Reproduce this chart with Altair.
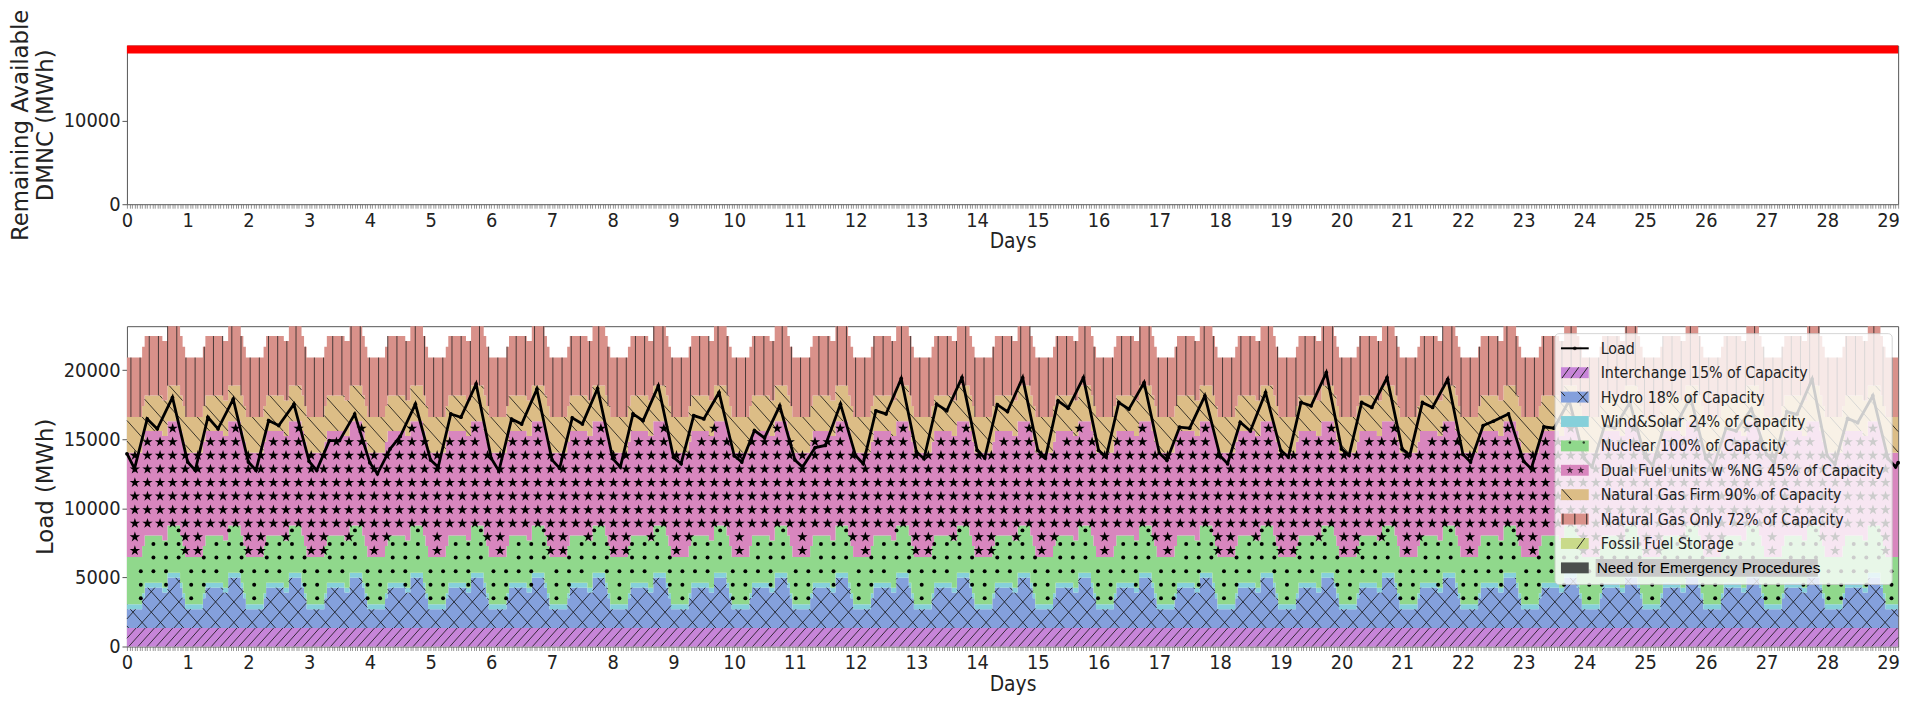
import altair as alt
import numpy as np
import pandas as pd

# ------------------------------------------------------------------ readings
N_HOURS = 701                         # hourly samples, hour 0 .. 700

series_names = [
    "Interchange 15% of Capacity",
    "Hydro 18% of Capacity",
    "Wind&Solar 24% of Capacity",
    "Nuclear 100% of Capacity",
    "Dual Fuel units w %NG 45% of Capacity",
    "Natural Gas Firm 90% of Capacity",
    "Natural Gas Only 72% of Capacity",
    "Fossil Fuel Storage",
]
series_colors = ["#c785d8", "#84a0dc", "#86d0da", "#90d88c",
                 "#d886be", "#dcbd86", "#d9918a", "#c9da8a"]
emergency_label = "Need for Emergency Procedures"
emergency_color = "#4b4f4d"

# flat supply blocks (MWh per hour)
interchange_mwh = 1340
wind_solar_mwh = 360
nuclear_mwh = 3420
dual_fuel_mwh = 7550
ng_firm_mwh = 2580
ng_only_mwh = 4300
fossil_storage_mwh = 0

# hydro block by hour of day (same shape every day of the month)
hydro_by_hour = [1360, 1360, 1360, 1360, 1360, 1360, 2150,
                 2920, 2920, 2920, 2920, 2920, 2920, 2920,
                 2560, 2560, 3630, 3630, 3630, 3630, 3630,
                 2920, 2150, 1360]

# hourly load: per day the midnight value (h0), night low (h3), morning peak (h8),
# midday (h12) and evening peak (h18); last hour of the series
load_midnight = [13950, 13350, 13350, 13400, 13300, 13500, 13600, 13500, 13600, 13700,
                 13800, 13500, 13800, 14100, 14200, 14200, 14200, 14000, 13800, 14200,
                 14300, 14300, 13900, 13400, 13600, 13700, 13600, 13900, 13800, 13600]
load_night = [12870, 12750, 12750, 12750, 12500, 12990, 12700, 12900, 12990, 13230,
              13350, 12990, 13230, 13590, 13650, 13650, 13710, 13470, 13230, 13710,
              13830, 13830, 13350, 12870, 13000, 13100, 13000, 13300, 13200, 13000]
load_morning = [16470, 16590, 16350, 14900, 14300, 16830, 16460, 16550, 16830, 16710,
                15630, 14400, 17060, 17540, 17500, 17780, 17660, 15870, 16230, 17660,
                17660, 17660, 15990, 15900, 16000, 16300, 15800, 17000, 16500]
load_midday = [15750, 15750, 15990, 14900, 15200, 16590, 16100, 16110, 16350, 16470,
               15100, 14550, 16830, 17060, 17000, 17250, 17180, 15800, 15600, 17420,
               17300, 17300, 16300, 15800, 15800, 16000, 15600, 16800, 16200]
load_evening = [18020, 17900, 17540, 16820, 17540, 19000, 18620, 18670, 18860, 18380,
                17420, 17540, 19390, 19460, 19450, 19450, 19100, 18140, 18380, 19820,
                19460, 19340, 16830, 17800, 17660, 18030, 17200, 19350, 18150]
load_last = 13300
load_hours_of_day = [0, 3, 8, 12, 18]

# remaining available DMNC
dmnc_hours = [0, 700]
dmnc_mwh = [18575, 18575]

# ------------------------------------------------------------------ geometry
W = 1786
H_TOP, H_BOT = 160, 323
X_MAX = (N_HOURS - 1) / 24
Y_MAX_BOT = 23180
Y_MAX_TOP = 19050
PX_DAY = W / X_MAX
HOUR_PX = PX_DAY / 24
PX_MWH = H_BOT / Y_MAX_BOT

hours = np.arange(N_HOURS)
days = hours / 24.0
hydro = np.array(hydro_by_hour)[hours % 24]
blocks = np.vstack([
    np.full(N_HOURS, interchange_mwh), hydro, np.full(N_HOURS, wind_solar_mwh),
    np.full(N_HOURS, nuclear_mwh), np.full(N_HOURS, dual_fuel_mwh),
    np.full(N_HOURS, ng_firm_mwh), np.full(N_HOURS, ng_only_mwh),
    np.full(N_HOURS, fossil_storage_mwh),
]).astype(float)
tops = np.cumsum(blocks, axis=0)
bottoms = tops - blocks

stack_df = pd.concat([
    pd.DataFrame({"day": days, "lo": bottoms[i], "hi": tops[i], "series": name})
    for i, name in enumerate(series_names) if blocks[i].max() > 0
])

# load points
lh, lv = [], []
per_day = [load_midnight, load_night, load_morning, load_midday, load_evening]
for d in range(len(load_night)):
    for hod, arr in zip(load_hours_of_day, per_day):
        h = 24 * d + hod
        if d < len(arr) and h < N_HOURS:
            lh.append(h)
            lv.append(arr[d])
lh.append(N_HOURS - 1)
lv.append(load_last)
load_df = pd.DataFrame({"day": np.array(lh) / 24.0, "load": lv}).sort_values("day")

dmnc_df = pd.DataFrame({"day": np.array(dmnc_hours) / 24.0, "mwh": dmnc_mwh})


# ------------------------------------------------------------------ hatching
def diag_hatch(lo_mwh, hi_mwh, spacing, slope, sign):
    """Diagonal hatch lines clipped to a stepped band (pixel-space pattern)."""
    lo = lo_mwh[:-1] * PX_MWH
    hi = hi_mwh[:-1] * PX_MWH
    n = len(lo)
    u0 = np.arange(n) * HOUR_PX
    u1 = u0 + HOUR_PX
    vmax = hi.max()
    if sign > 0:
        cs = np.arange(-vmax / slope - spacing, W + spacing, spacing)
    else:
        cs = np.arange(0, W + vmax / slope + spacing, spacing)
    out = []
    for c in cs:
        if sign > 0:
            a = np.maximum(u0, c + lo / slope)
            b = np.minimum(u1, c + hi / slope)
        else:
            a = np.maximum(u0, c - hi / slope)
            b = np.minimum(u1, c - lo / slope)
        idx = np.nonzero(b - a > 1e-6)[0]
        seg = None
        for i in idx:
            if seg is not None and seg[2] == i - 1 and abs(seg[1] - a[i]) < 1e-6:
                seg = [seg[0], b[i], i]
            else:
                if seg is not None:
                    out.append((c, seg[0], seg[1]))
                seg = [a[i], b[i], i]
        if seg is not None:
            out.append((c, seg[0], seg[1]))
    out = np.array(out)
    c, ua, ub = out[:, 0], out[:, 1], out[:, 2]
    va = sign * slope * (ua - c)
    vb = sign * slope * (ub - c)
    return pd.DataFrame({"x": ua / PX_DAY, "x2": ub / PX_DAY,
                         "y": va / PX_MWH, "y2": vb / PX_MWH})


def grid_marks(lo_mwh, hi_mwh, dx, dy, u_phase, v_phase, margin):
    lo = lo_mwh[:-1] * PX_MWH
    hi = hi_mwh[:-1] * PX_MWH
    us = np.arange(u_phase, W - 2, dx)
    vs = np.arange(v_phase % dy, hi.max(), dy)
    U, V = np.meshgrid(us, vs)
    k = np.clip((U / HOUR_PX).astype(int), 0, len(lo) - 1)
    inside = (V >= lo[k] + margin) & (V <= hi[k] - margin)
    return pd.DataFrame({"x": U[inside] / PX_DAY, "y": V[inside] / PX_MWH})


def vertical_hatch(lo_mwh, hi_mwh, spacing, phase):
    us = np.arange(phase, W, spacing)
    k = np.clip((us / HOUR_PX).astype(int), 0, N_HOURS - 2)
    return pd.DataFrame({"x": us / PX_DAY, "y": lo_mwh[k], "y2": hi_mwh[k]})


hatch_df = pd.concat([
    diag_hatch(bottoms[0], tops[0], 9.25, 1.12, +1),     # interchange  //
    diag_hatch(bottoms[1], tops[1], 18.5, 1.12, +1),     # hydro        x
    diag_hatch(bottoms[1], tops[1], 18.5, 1.12, -1),
    diag_hatch(bottoms[5], tops[5], 18.5, 1.12, -1),     # gas firm     \
])
vline_df = vertical_hatch(bottoms[6], tops[6], 9.25, 4.0)  # gas only ||
star_df = grid_marks(bottoms[4], tops[4], 12.7, 13.7, 8.0, 192.6, 2.0)
dot_df = grid_marks(bottoms[3], tops[3], 12.7, 13.7, 14.0, 48.6, 2.0)

STAR = ("M0,-1L0.2245,-0.309L0.951,-0.309L0.363,0.118L0.588,0.809L0,0.382"
        "L-0.588,0.809L-0.363,0.118L-0.951,-0.309L-0.2245,-0.309Z")

# ------------------------------------------------------------------ axes
FONT = "DejaVu Sans Condensed, DejaVu Sans"
hour_ticks = [h / 24 for h in range(N_HOURS)]
x_scale = alt.Scale(domain=[0, X_MAX], nice=False, zero=False)
x_axis = alt.Axis(values=hour_ticks, title="Days", grid=False, domain=False,
                  labelExpr="datum.value % 1 === 0 ? format(datum.value, 'd') : ''",
                  labelOverlap=False, labelFlush=False, tickSize=4, tickWidth=0.7,
                  tickColor="#666", labelPadding=2, labelFontSize=20, labelFont=FONT,
                  titleFont=FONT, titleFontSize=21, titlePadding=1,
                  titleFontWeight="normal", labelColor="#222", titleColor="#222")
yb_scale = alt.Scale(domain=[0, Y_MAX_BOT], nice=False)
yb_axis = alt.Axis(values=[0, 5000, 10000, 15000, 20000], format="d", title="Load (MWh)",
                   grid=False, domain=False, tickSize=5, tickColor="#555",
                   labelFontSize=20, labelFont=FONT, labelColor="#222",
                   titleFont="DejaVu Sans", titleFontSize=23, titlePadding=6,
                   titleFontWeight="normal", titleColor="#222")
yt_scale = alt.Scale(domain=[0, Y_MAX_TOP], nice=False)
yt_axis = alt.Axis(values=[0, 10000], format="d", title=["Remaining Available", "DMNC (MWh)"],
                   grid=False, domain=False, tickSize=5, tickColor="#555",
                   labelFontSize=20, labelFont=FONT, labelColor="#222",
                   titleFont="DejaVu Sans", titleFontSize=23, titlePadding=6,
                   titleLineHeight=25, titleFontWeight="normal", titleColor="#222")


def X(field):
    return alt.X(field, type="quantitative", scale=x_scale, axis=x_axis)


def YB(field):
    return alt.Y(field, type="quantitative", scale=yb_scale, axis=yb_axis, stack=None)


# ------------------------------------------------------------------ top panel
top = alt.Chart(dmnc_df).mark_line(color="#ff0000", strokeWidth=8).encode(
    x=X("day"),
    y=alt.Y("mwh:Q", scale=yt_scale, axis=yt_axis),
).properties(width=W, height=H_TOP)

# ------------------------------------------------------------------ bottom panel
areas = alt.Chart(stack_df).mark_area(interpolate="step-after").encode(
    x=X("day"),
    y=YB("lo"),
    y2="hi:Q",
    color=alt.Color("series:N", scale=alt.Scale(domain=series_names, range=series_colors),
                    legend=None),
)
hatches = alt.Chart(hatch_df).mark_rule(color="#111", strokeWidth=1, opacity=0.8).encode(
    x=X("x"), x2="x2:Q", y=YB("y"), y2="y2:Q")
vlines = alt.Chart(vline_df).mark_rule(color="#222", strokeWidth=1, opacity=0.8).encode(
    x=X("x"), y=YB("y"), y2="y2:Q")
stars = alt.Chart(star_df).mark_point(shape=STAR, filled=True, color="black", size=120,
                                      opacity=1).encode(x=X("x"), y=YB("y"))
dots = alt.Chart(dot_df).mark_circle(color="black", size=16, opacity=1).encode(
    x=X("x"), y=YB("y"))
load_line = alt.Chart(load_df).mark_line(color="black", strokeWidth=2.8).encode(
    x=X("day"), y=YB("load"))
load_pts = alt.Chart(load_df).mark_circle(color="black", size=14, opacity=1).encode(
    x=X("day"), y=YB("load"))

# ------------------------------------------------------------------ legend
ONE = pd.DataFrame({"k": [0]})


def px_rect(x1, x2, y1, y2, **style):
    return alt.Chart(ONE).mark_rect(**style).encode(
        x=alt.value(x1), x2=alt.value(x2), y=alt.value(y1), y2=alt.value(y2))


def px_rule(x1, y1, x2, y2, **style):
    return alt.Chart(ONE).mark_rule(**style).encode(
        x=alt.value(x1), y=alt.value(y1), x2=alt.value(x2), y2=alt.value(y2))


def px_text(x, y, text, **style):
    return alt.Chart(ONE).mark_text(**style).encode(
        x=alt.value(x), y=alt.value(y), text=alt.value(text))


def px_mark(x, y, **style):
    return alt.Chart(ONE).mark_point(**style).encode(x=alt.value(x), y=alt.value(y))


LX0, LX1, LY0, LY1 = 1440, 1780, 7.5, 260.5
SW0, SW1, SH = 1446, 1474, 5.5
TX = 1486
ROW0, ROWSTEP = 22.3, 24.6

legend = [px_rect(LX0, LX1, LY0, LY1, fill="white", opacity=0.8, cornerRadius=4,
                  stroke="#cccccc", strokeWidth=1, strokeOpacity=1)]
rows = ["Load"] + series_names + [emergency_label]
for i, lab in enumerate(rows):
    yc = ROW0 + ROWSTEP * i
    if i == 0:
        legend.append(px_rule(SW0, yc, SW1, yc, color="black", strokeWidth=2))
        legend.append(px_mark(1460, yc, filled=True, color="black", size=14, shape="circle"))
    elif lab == emergency_label:
        legend.append(px_rect(SW0, SW1, yc - SH, yc + SH, fill=emergency_color))
    else:
        legend.append(px_rect(SW0, SW1, yc - SH, yc + SH, fill=series_colors[i - 1]))
    hs = dict(color="#222", strokeWidth=1)
    if i == 1:
        for x0 in (1447, 1456, 1465):
            legend.append(px_rule(x0, yc + SH, x0 + 8, yc - SH, **hs))
    elif i == 2:
        legend.append(px_rule(1463, yc - SH, 1473, yc + SH, **hs))
        legend.append(px_rule(1463, yc + SH, 1473, yc - SH, **hs))
        legend.append(px_rule(1446, yc - SH, 1450, yc - 1, **hs))
    elif i == 4:
        for x0 in (1455, 1469):
            legend.append(px_mark(x0, yc - 3.5, filled=True, color="black", size=6,
                                  shape="circle"))
    elif i == 5:
        for x0 in (1455, 1466):
            legend.append(px_mark(x0, yc, filled=True, color="black", size=60, shape=STAR))
    elif i == 6:
        legend.append(px_rule(1447, yc - SH, 1457, yc + SH, **hs))
    elif i == 7:
        for x0 in (1448, 1460, 1472):
            legend.append(px_rule(x0, yc - SH, x0, yc + SH, **hs))
    elif i == 8:
        legend.append(px_rule(1462, yc + SH, 1470, yc - SH, **hs))
    if lab == emergency_label:
        legend.append(px_rect(1481, 1705, yc - 9, yc + 9, fill="#c8c8c8"))
        legend.append(px_text(1482, yc, lab, align="left", baseline="middle",
                              font="Liberation Sans", fontSize=15.5, color="black"))
    else:
        legend.append(px_text(TX, yc + 0.5, lab, align="left", baseline="middle",
                              font=FONT, fontSize=16, color="#222"))

bottom = alt.layer(areas, hatches, vlines, stars, dots, load_line, load_pts,
                   *legend).properties(width=W, height=H_BOT)

chart = alt.vconcat(
    top, bottom, spacing=123, bounds="flush", background="white",
    padding={"left": 9, "top": 5, "right": 0, "bottom": 0},
).configure_view(
    stroke="#555", strokeWidth=1,
)

chart.save("out.html", embed_options={"renderer": "svg", "actions": False})
